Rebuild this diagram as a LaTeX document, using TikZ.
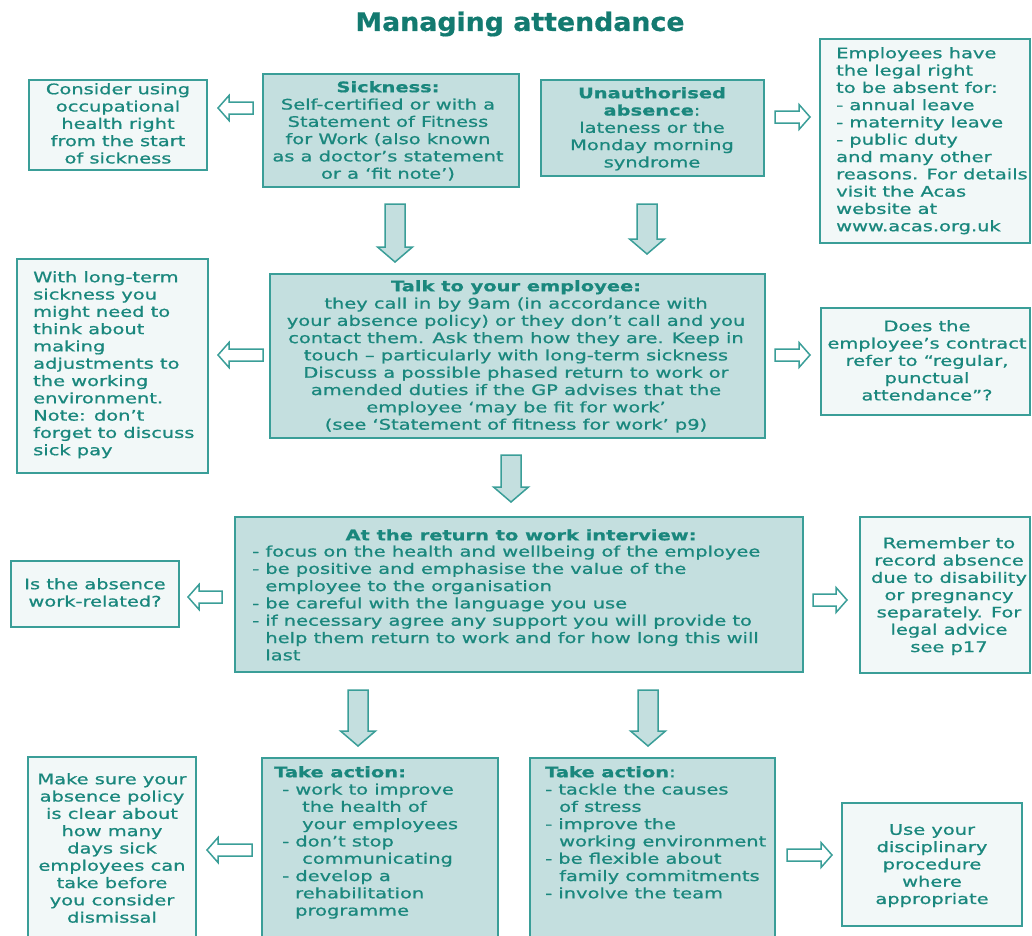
\documentclass[tikz,border=0pt]{standalone}
\usepackage{fontspec}
\setmainfont{DejaVu Sans}[FakeStretch=1.34, FakeBold=0.9]
\newfontfamily\headfont{DejaVu Sans}[FakeStretch=1.05, FakeBold=0.6]
\definecolor{tealtext}{HTML}{1A877D}
\definecolor{tealtitle}{HTML}{137A70}
\definecolor{tealline}{HTML}{3A9E98}
\definecolor{tealfill}{HTML}{C4DFDF}
\definecolor{palefill}{HTML}{F2F8F8}
\tikzset{
  mainbox/.style={draw=tealline, line width=1.8pt, fill=tealfill, inner sep=0pt},
  sidebox/.style={draw=tealline, line width=1.8pt, fill=palefill, inner sep=0pt},
  txt/.style={inner sep=0pt, text=tealtext, font=\fontsize{14.5}{17.3}\selectfont,
    execute at begin node=\strut},
  ctxt/.style={txt, align=center, anchor=north},
  ltxt/.style={txt, align=left, anchor=north west},
  dnarrow/.style={draw=tealline, line width=1.5pt, fill=tealfill, line join=miter},
  sdarrow/.style={draw=tealline, line width=1.5pt, fill=white, line join=miter},
  pics/downarr/.style={code={
    \draw[dnarrow] (-10,0) -- (10,0) -- (10,#1-15) -- (17.5,#1-15) -- (0,#1)
      -- (-17.5,#1-15) -- (-10,#1-15) -- cycle;}},
  pics/sidearr/.style={code={
    \draw[sdarrow] (0,-6) -- (#1-11,-6) -- (#1-11,-12.5) -- (#1,0)
      -- (#1-11,12.5) -- (#1-11,6) -- (0,6) -- cycle;}},
}
\begin{document}
\begin{tikzpicture}[x=1pt,y=-1pt]
\useasboundingbox (0,0) rectangle (1032,935);
\clip (0,0) rectangle (1032,935);

% title
\node[inner sep=0pt, text=tealtitle, font=\headfont\fontsize{25.5}{30}\selectfont\bfseries] (title) at (520,24) {Managing attendance};

% boxes
\node[sidebox, minimum width=178pt, minimum height=90pt]  (occ)      at (118,125) {};
\node[mainbox, minimum width=256pt, minimum height=113pt] (sick)     at (391,130.5) {};
\node[mainbox, minimum width=223pt, minimum height=96pt]  (unauth)   at (652.5,128) {};
\node[sidebox, minimum width=210pt, minimum height=204pt] (legal)    at (925,141) {};
\node[sidebox, minimum width=191pt, minimum height=214pt] (longterm) at (112.5,366) {};
\node[mainbox, minimum width=495pt, minimum height=164pt] (talk)     at (517.5,356) {};
\node[sidebox, minimum width=209pt, minimum height=107pt] (contract) at (925.5,361.5) {};
\node[mainbox, minimum width=568pt, minimum height=155pt] (return)   at (519,594.5) {};
\node[sidebox, minimum width=168pt, minimum height=66pt]  (workrel)  at (95,594) {};
\node[sidebox, minimum width=170pt, minimum height=156pt] (record)   at (945,595) {};
\node[mainbox, minimum width=236pt, minimum height=187pt] (act1)     at (380,851.5) {};
\node[mainbox, minimum width=245pt, minimum height=187pt] (act2)     at (652.5,851.5) {};
\node[sidebox, minimum width=168pt, minimum height=188pt] (policy)   at (112,851) {};
\node[sidebox, minimum width=180pt, minimum height=123pt] (disc)     at (932,864.5) {};

% block arrows
\pic at (395,204) {downarr=58};
\pic at (647,204) {downarr=50};
\pic at (511,455) {downarr=47};
\pic at (358,690) {downarr=56};
\pic at (648,690) {downarr=56};
\pic[xscale=-1] at (253,108) {sidearr=35};
\pic at (775,117) {sidearr=35};
\pic[xscale=-1] at (263,355) {sidearr=45};
\pic at (775,355) {sidearr=35};
\pic[xscale=-1] at (222,597) {sidearr=34};
\pic at (813,600) {sidearr=34};
\pic[xscale=-1] at (252,850) {sidearr=45};
\pic at (787,855) {sidearr=45};

% texts
\node[ctxt] (occ-t) at (118,83) {Consider using\\occupational\\health right\\from the start\\of sickness};
\node[ctxt] (sick-t) at (388,81) {\textbf{Sickness:}\\Self-certified or with a\\Statement of Fitness\\for Work (also known\\as a doctor’s statement\\or a ‘fit note’)};
\node[ctxt] (unauth-t) at (652,87) {\textbf{Unauthorised}\\\textbf{absence}:\\lateness or the\\Monday morning\\syndrome};
\node[ltxt] (legal-t) at (836,47) {Employees have\\the legal right\\to be absent for:\\- annual leave\\- maternity leave\\- public duty\\and many other\\reasons. For details\\visit the Acas\\website at\\www.acas.org.uk};
\node[ltxt] (longterm-t) at (33,271) {With long-term\\sickness you\\might need to\\think about\\making\\adjustments to\\the working\\environment.\\Note: don’t\\forget to discuss\\sick pay};
\node[ctxt] (talk-t) at (516,280) {\textbf{Talk to your employee:}\\they call in by 9am (in accordance with\\your absence policy) or they don’t call and you\\contact them. Ask them how they are. Keep in\\touch -- particularly with long-term sickness\\Discuss a possible phased return to work or\\amended duties if the GP advises that the\\employee ‘may be fit for work’\\(see ‘Statement of fitness for work’ p9)};
\node[ctxt] (contract-t) at (927,320) {Does the\\employee’s contract\\refer to “regular,\\punctual\\attendance”?};
\node[ctxt] (return-h) at (521,528) {\textbf{At the return to work interview:}};
\node[ltxt] (return-t) at (252,545.3) {- focus on the health and wellbeing of the employee\\- be positive and emphasise the value of the\\\hphantom{- }employee to the organisation\\- be careful with the language you use\\- if necessary agree any support you will provide to\\\hphantom{- }help them return to work and for how long this will\\\hphantom{- }last};
\node[ctxt] (workrel-t) at (95,578) {Is the absence\\work-related?};
\node[ctxt] (record-t) at (949,537) {Remember to\\record absence\\due to disability\\or pregnancy\\separately. For\\legal advice\\see p17};
\node[ltxt] (act1-t) at (274,766) {\textbf{Take action:}\\\hspace*{8pt}- work to improve\\\hspace*{28pt}the health of\\\hspace*{28pt}your employees\\\hspace*{8pt}- don’t stop\\\hspace*{28pt}communicating\\\hspace*{8pt}- develop a\\\hspace*{21pt}rehabilitation\\\hspace*{21pt}programme};
\node[ltxt] (act2-t) at (545,766) {\textbf{Take action}:\\- tackle the causes\\\hspace*{14pt}of stress\\- improve the\\\hspace*{14pt}working environment\\- be flexible about\\\hspace*{14pt}family commitments\\- involve the team};
\node[ctxt] (policy-t) at (112,773) {Make sure your\\absence policy\\is clear about\\how many\\days sick\\employees can\\take before\\you consider\\dismissal};
\node[ctxt] (disc-t) at (932,824) {Use your\\disciplinary\\procedure\\where\\appropriate};
\end{tikzpicture}
\end{document}
